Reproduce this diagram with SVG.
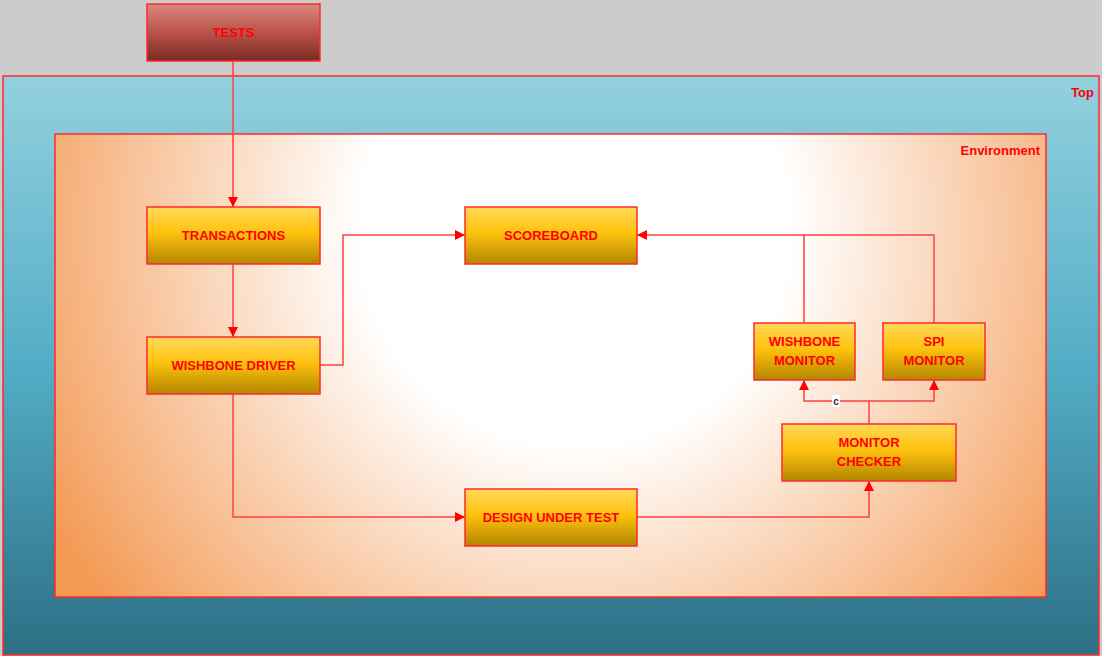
<svg xmlns="http://www.w3.org/2000/svg" width="1102" height="656" viewBox="0 0 1102 656">
<defs>
<linearGradient id="gTop" x1="0" y1="0" x2="0" y2="1">
<stop offset="0" stop-color="#93d0de"/>
<stop offset="0.5" stop-color="#53adc6"/>
<stop offset="1" stop-color="#2d6f84"/>
</linearGradient>
<radialGradient id="gEnv" gradientUnits="userSpaceOnUse" cx="575" cy="230" r="600">
<stop offset="0" stop-color="#ffffff"/>
<stop offset="0.36" stop-color="#ffffff"/>
<stop offset="1" stop-color="#f39a55"/>
</radialGradient>
<linearGradient id="gBox" x1="0" y1="0" x2="0" y2="1">
<stop offset="0" stop-color="#ffd95a"/>
<stop offset="0.45" stop-color="#ffc20e"/>
<stop offset="1" stop-color="#b38600"/>
</linearGradient>
<linearGradient id="gTests" x1="0" y1="0" x2="0" y2="1">
<stop offset="0" stop-color="#da8880"/>
<stop offset="0.5" stop-color="#b9534b"/>
<stop offset="1" stop-color="#7a2a24"/>
</linearGradient>
<marker id="arr" viewBox="0 0 10 10" refX="10" refY="5" markerWidth="10" markerHeight="10" markerUnits="userSpaceOnUse" orient="auto">
<path d="M0,0 L10,5 L0,10 Z" fill="#ff0000"/>
</marker>
<style>
.box{fill:url(#gBox);stroke:#ff2a2a;stroke-width:1.5}
.lbl{font-family:"Liberation Sans",Arial,sans-serif;font-weight:bold;font-size:13px;fill:#ff0000;text-anchor:middle}
.cap{font-family:"Liberation Sans",Arial,sans-serif;font-weight:bold;font-size:13px;fill:#ff0000;text-anchor:end}
.con{fill:none;stroke:#ff4040;stroke-width:1.5}
</style>
</defs>
<rect x="0" y="0" width="1102" height="656" fill="#cccccc"/>
<g id="top">
<rect x="3" y="76" width="1096" height="579" fill="url(#gTop)" stroke="#ff2a2a" stroke-width="1.5"/>
<text class="cap" x="1094" y="97">Top</text>
</g>
<g id="environment">
<rect x="55" y="134" width="991" height="463" fill="url(#gEnv)" stroke="#ff2a2a" stroke-width="1.5"/>
<text class="cap" x="1040" y="155">Environment</text>
</g>
<g id="connectors">
<path class="con" d="M233,61 V207" marker-end="url(#arr)"/>
<path class="con" d="M233,264 V337" marker-end="url(#arr)"/>
<path class="con" d="M320,365 H343 V235 H465" marker-end="url(#arr)"/>
<path class="con" d="M233,394 V517 H465" marker-end="url(#arr)"/>
<path class="con" d="M637,517 H869 V481" marker-end="url(#arr)"/>
<path class="con" d="M869,424 V401 H804 V380" marker-end="url(#arr)"/>
<path class="con" d="M869,401 H934 V380" marker-end="url(#arr)"/>
<path class="con" d="M804,323 V235 H637" marker-end="url(#arr)"/>
<path class="con" d="M934,323 V235 H804"/>
<rect x="832" y="395" width="8" height="12" fill="#ffffff"/>
<text x="836" y="405" font-family="Liberation Sans, Arial, sans-serif" font-size="10" font-weight="bold" fill="#333333" text-anchor="middle">c</text>
</g>
<g id="tests">
<rect x="147" y="4" width="173" height="57" fill="url(#gTests)" stroke="#ff2a2a" stroke-width="1.5"/>
<text class="lbl" x="233.5" y="37">TESTS</text>
</g>
<g id="transactions">
<rect class="box" x="147" y="207" width="173" height="57"/>
<text class="lbl" x="233.5" y="240">TRANSACTIONS</text>
</g>
<g id="wishbone-driver">
<rect class="box" x="147" y="337" width="173" height="57"/>
<text class="lbl" x="233.5" y="370">WISHBONE DRIVER</text>
</g>
<g id="scoreboard">
<rect class="box" x="465" y="207" width="172" height="57"/>
<text class="lbl" x="551" y="240">SCOREBOARD</text>
</g>
<g id="design-under-test">
<rect class="box" x="465" y="489" width="172" height="57"/>
<text class="lbl" x="551" y="522">DESIGN UNDER TEST</text>
</g>
<g id="wishbone-monitor">
<rect class="box" x="754" y="323" width="101" height="57"/>
<text class="lbl" x="804.5" y="346">WISHBONE</text>
<text class="lbl" x="804.5" y="365">MONITOR</text>
</g>
<g id="spi-monitor">
<rect class="box" x="883" y="323" width="102" height="57"/>
<text class="lbl" x="934" y="346">SPI</text>
<text class="lbl" x="934" y="365">MONITOR</text>
</g>
<g id="monitor-checker">
<rect class="box" x="782" y="424" width="174" height="57"/>
<text class="lbl" x="869" y="447">MONITOR</text>
<text class="lbl" x="869" y="466">CHECKER</text>
</g>
</svg>
